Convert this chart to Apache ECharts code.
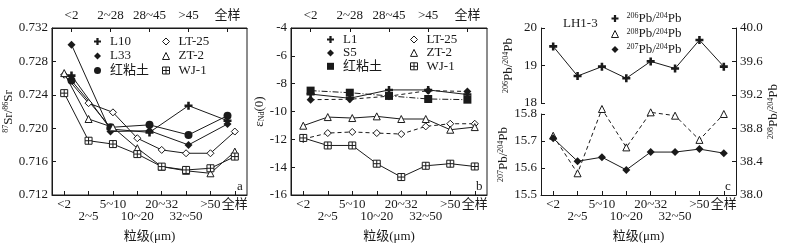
<!DOCTYPE html>
<html><head><meta charset="utf-8">
<script src="https://cdn.jsdelivr.net/npm/echarts@6/dist/echarts.min.js"></script>
<style>html,body{margin:0;padding:0;background:#fff}#c{width:786px;height:249px}</style>
</head><body><div id="c"></div>
<script>
// ---------- data ----------
const catsFine = ['<2','2~5','5~10','10~20','20~32','32~50','>50','全样'];
const catsCoarse = ['<2','2~28','28~45','>45','全样'];
// panel a: 87Sr/86Sr
const srL10  = [0.7263, 0.7199, 0.7195, 0.7227, 0.7209];
const srL33  = [0.7300, 0.7196, 0.7197, 0.7180, 0.7205];
const srRed  = [0.7257, 0.7201, 0.7204, 0.7192, 0.7215];
const srLT25 = [0.7264, 0.7230, 0.7219, 0.7188, 0.7174, 0.7170, 0.7170, 0.7196];
const srZT2  = [0.7266, 0.7211, 0.7201, 0.7176, 0.7154, 0.7149, 0.7146, 0.7172];
const srWJ1  = [0.7242, 0.7185, 0.7181, 0.7169, 0.7154, 0.7150, 0.7152, 0.7166];
// panel b: eNd(0)
const ndL1   = [-8.75, -9.05, -8.45, -8.45, -8.78];
const ndS5   = [-9.15, -9.12, -8.90, -8.50, -8.56];
const ndRed  = [-8.50, -8.65, -8.88, -9.10, -9.15];
const ndLT25 = [-11.98, -11.55, -11.47, -11.55, -11.62, -11.07, -10.88, -10.88];
const ndZT2  = [-11.02, -10.40, -10.47, -10.35, -10.54, -10.54, -11.31, -11.12];
const ndWJ1  = [-11.90, -12.44, -12.44, -13.75, -14.71, -13.90, -13.75, -13.95];
// panel c: LH1-3 Pb isotopes
const pb206 = [19.51, 18.72, 18.97, 18.66, 19.11, 18.92, 19.68, 18.97];
const pb208 = [38.71, 38.26, 39.03, 38.57, 38.99, 38.95, 38.66, 38.97];
const pb207 = [15.710, 15.625, 15.640, 15.593, 15.659, 15.659, 15.670, 15.655];

// ---------- style ----------
const INK = '#1a1a1a';
const FONT = "'Liberation Serif','Times New Roman','Noto Sans CJK SC',serif";
const CROSS = 'path://M3.4,0H6.6V3.4H10V6.6H6.6V10H3.4V6.6H0V3.4H3.4Z';
const SQX = 'path://M0,0H10V10H0Z M5,0V10 M0,5H10';
const SYM = {
  cross:   {symbol: CROSS, size: 8, fill: INK, open: false},
  diamond: {symbol: 'diamond', size: 8, fill: INK, open: false},
  circle:  {symbol: 'circle', size: 8, fill: INK, open: false},
  square:  {symbol: 'rect', size: 8, fill: INK, open: false},
  odiamond:{symbol: 'diamond', size: 7, fill: '#fff', open: true},
  otri:    {symbol: 'triangle', size: 7, fill: '#fff', open: true},
  sqx:     {symbol: SQX, size: 7, fill: '#fff', open: true}
};
const DASH = [4, 3], DASHDOT = [6, 2, 1, 2];

function ser(name, data, sym, xi, yi, lt) {
  const s = SYM[sym];
  return {
    type: 'line', name, data, xAxisIndex: xi, yAxisIndex: yi,
    symbol: s.symbol, symbolSize: s.size, showSymbol: true,
    lineStyle: {color: INK, width: 1, type: lt || 'solid'},
    itemStyle: {color: s.fill, borderColor: INK, borderWidth: s.open ? 1 : 0},
    emphasis: {disabled: true}, animation: false, z: 3
  };
}
function legItem(name, sym) {
  const s = SYM[sym];
  return {name, icon: s.symbol,
    itemStyle: {color: s.fill, borderColor: INK, borderWidth: s.open ? 1 : 0}};
}
function legend(left, top, gap, items, extra) {
  return Object.assign({
    orient: 'vertical', left, top, itemWidth: 7, itemHeight: 7, itemGap: gap,
    selectedMode: false, padding: 0, data: items,
    textStyle: {fontFamily: FONT, fontSize: 13, color: INK, lineHeight: 13, padding: [0,0,0,4]}
  }, extra || {});
}
const lbl = {fontFamily: FONT, fontSize: 13, color: INK};
function xBottom(grid) {
  return {type: 'category', gridIndex: grid, position: 'bottom', data: catsFine,
    boundaryGap: true,
    axisLine: {show: true, onZero: false, lineStyle: {color: INK}},
    axisTick: {show: true, inside: true, alignWithLabel: true, length: 4, lineStyle: {color: INK}},
    axisLabel: Object.assign({interval: 0, margin: 4, lineHeight: 12,
      formatter: (v, i) => (i % 2 === 1 && i < 7) ? '\n' + v : v}, lbl),
    splitLine: {show: false},
    name: '粒级(μm)', nameLocation: 'middle', nameGap: 35,
    nameTextStyle: {fontFamily: FONT, fontSize: 13, color: INK}};
}
function xTop(grid) {
  return {type: 'category', gridIndex: grid, position: 'top', data: catsCoarse,
    boundaryGap: true,
    axisLine: {show: true, onZero: false, lineStyle: {color: INK}},
    axisTick: {show: true, inside: true, alignWithLabel: true, length: 4, lineStyle: {color: INK}},
    axisLabel: Object.assign({interval: 0, margin: 6}, lbl),
    splitLine: {show: false}};
}
function xHidden(grid) {
  return {type: 'category', gridIndex: grid, data: catsFine, boundaryGap: true, show: false};
}
function yVal(grid, min, max, interval, dec, pos, name, gap) {
  return {type: 'value', gridIndex: grid, position: pos || 'left', min, max, interval,
    axisLine: {show: true, lineStyle: {color: INK}},
    axisTick: {show: true, inside: true, length: 4, lineStyle: {color: INK}},
    axisLabel: Object.assign({margin: 4, formatter: v => v.toFixed(dec)}, lbl),
    splitLine: {show: false},
    name, nameLocation: 'middle', nameGap: gap, nameRotate: 90,
    nameTextStyle: {fontFamily: FONT, fontSize: 13, color: INK,
      rich: {n: {fontFamily: FONT, fontSize: 13, color: INK},
             sup: {fontFamily: FONT, fontSize: 8, color: INK, verticalAlign: 'top'},
             sub: {fontFamily: FONT, fontSize: 8, color: INK, verticalAlign: 'bottom'}}}};
}

const chart = echarts.init(document.getElementById('c'), null, {renderer: 'canvas'});
const pbNames = {P206: '{sup|206}{n|Pb/}{sup|204}{n|Pb}', P208: '{sup|208}{n|Pb/}{sup|204}{n|Pb}', P207: '{sup|207}{n|Pb/}{sup|204}{n|Pb}'};

chart.setOption({
  animation: false,
  backgroundColor: '#fff',
  grid: [
    {left: 52, top: 28, width: 195, height: 167, show: true, borderColor: INK, borderWidth: 1, backgroundColor: 'transparent'},
    {left: 291, top: 28, width: 196, height: 167, show: true, borderColor: INK, borderWidth: 1, backgroundColor: 'transparent'},
    {left: 541, top: 28, width: 195, height: 75},
    {left: 541, top: 114, width: 195, height: 81},
    {left: 541, top: 28, width: 195, height: 167}
  ],
  xAxis: [xBottom(0), xTop(0), xBottom(1), xTop(1), xHidden(2), xBottom(3), xHidden(4)],
  yAxis: [
    yVal(0, 0.712, 0.732, 0.004, 3, 'left', '{sup|87}{n|Sr/}{sup|86}{n|Sr}', 33),
    yVal(1, -16, -4, 2, 0, 'left', '{n|ε}{sub|Nd}{n|(0)}', 20),
    yVal(2, 18, 20, 1, 0, 'left', '{sup|206}{n|Pb/}{sup|204}{n|Pb}', 26),
    yVal(3, 15.5, 15.8, 0.1, 1, 'left', '{sup|207}{n|Pb/}{sup|204}{n|Pb}', 28),
    yVal(4, 38.0, 40.0, 0.4, 1, 'right', '{sup|208}{n|Pb/}{sup|204}{n|Pb}', 27)
  ],
  legend: [
    legend(94, 35, 1.5, [legItem('L10','cross'), legItem('L33','diamond'), legItem('红粘土','circle')]),
    legend(162, 35, 1.5, [legItem('LT-25','odiamond'), legItem('ZT-2','otri'), legItem('WJ-1','sqx')]),
    legend(327, 33, 0.4, [legItem('L1','cross'), legItem('S5','diamond'), legItem('红粘土 ','square')]),
    legend(410, 33, 0.4, [legItem('LT-25 ','odiamond'), legItem('ZT-2 ','otri'), legItem('WJ-1 ','sqx')]),
    legend(611, 12, 2.5, [legItem('P206','cross'), legItem('P208','otri'), legItem('P207','diamond')],
      {formatter: n => pbNames[n],
       textStyle: {fontFamily: FONT, fontSize: 13, color: INK, lineHeight: 13, padding: [0,0,0,3],
         rich: {n: {fontFamily: FONT, fontSize: 13, color: INK, lineHeight: 13},
                sup: {fontFamily: FONT, fontSize: 8, color: INK, lineHeight: 13, verticalAlign: 'top'}}}})
  ],
  series: [
    ser('L10', srL10, 'cross', 1, 0),
    ser('L33', srL33, 'diamond', 1, 0),
    ser('红粘土', srRed, 'circle', 1, 0),
    ser('LT-25', srLT25, 'odiamond', 0, 0),
    ser('ZT-2', srZT2, 'otri', 0, 0),
    ser('WJ-1', srWJ1, 'sqx', 0, 0),

    ser('S5', ndS5, 'diamond', 3, 1, DASH),
    ser('红粘土 ', ndRed, 'square', 3, 1, DASHDOT),
    ser('L1', ndL1, 'cross', 3, 1),
    ser('LT-25 ', ndLT25, 'odiamond', 2, 1, DASH),
    ser('ZT-2 ', ndZT2, 'otri', 2, 1),
    ser('WJ-1 ', ndWJ1, 'sqx', 2, 1),

    ser('P206', pb206, 'cross', 4, 2),
    ser('P208', pb208, 'otri', 6, 4, DASH),
    ser('P207', pb207, 'diamond', 5, 3)
  ],
  graphic: [
    {type: 'text', left: 237, top: 180, style: {text: 'a', font: '13px ' + FONT, fill: INK}},
    {type: 'text', left: 476, top: 180, style: {text: 'b', font: '13px ' + FONT, fill: INK}},
    {type: 'text', left: 725, top: 180, style: {text: 'c', font: '13px ' + FONT, fill: INK}},
    {type: 'text', left: 563, top: 17, style: {text: 'LH1-3', font: '13px ' + FONT, fill: INK}}
  ]
});
</script></body></html>
